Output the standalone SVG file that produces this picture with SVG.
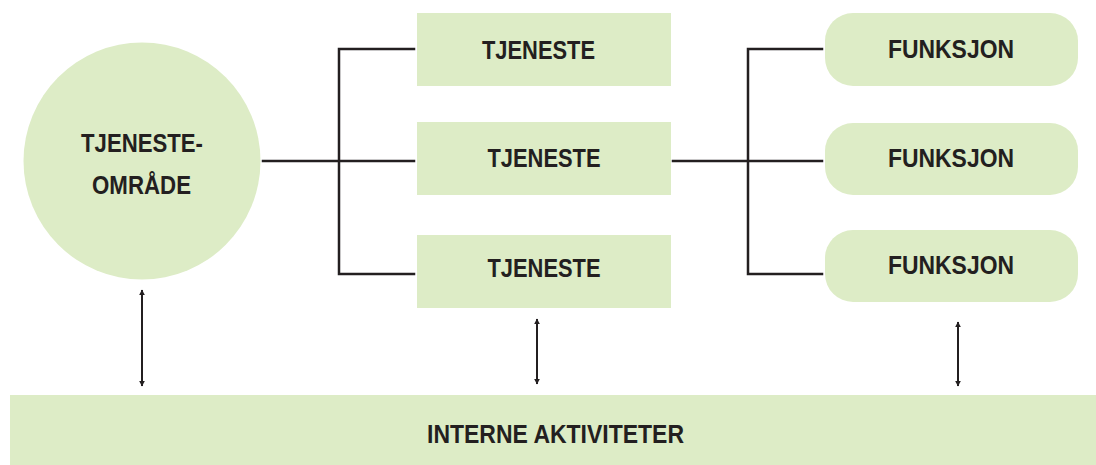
<svg xmlns="http://www.w3.org/2000/svg" width="1096" height="465" viewBox="0 0 1096 465">
<style>
.node{fill:#ddecc6;stroke:none}
.lbl{font-family:"Liberation Sans",Arial,sans-serif;font-weight:bold;font-size:25px;fill:#231f20;text-anchor:middle}
.con{fill:none;stroke:#231f20;stroke-width:2.5;stroke-linecap:square}
.arr{fill:none;stroke:#231f20;stroke-width:2;marker-start:url(#ah);marker-end:url(#ah)}
</style>
<defs>
<marker id="ah" viewBox="0 0 10 10" refX="9" refY="5" markerWidth="6" markerHeight="7" markerUnits="userSpaceOnUse" orient="auto-start-reverse">
<path d="M0,0 L10,5 L0,10 Z" fill="#231f20"/>
</marker>
</defs>
<g id="connectors">
<path class="con" d="M263,161 H339 M339,49 V274 M339,49 H414 M339,161 H414 M339,274 H414"/>
<path class="con" d="M673,161 H748 M748,49 V274 M748,49 H822 M748,161 H822 M748,274 H822"/>
<line class="arr" x1="142" y1="290" x2="142" y2="386"/>
<line class="arr" x1="537" y1="319" x2="537" y2="384"/>
<line class="arr" x1="958" y1="322" x2="958" y2="386"/>
</g>
<g id="tjenesteomrade">
<circle class="node" cx="142" cy="161" r="118.5"/>
<text class="lbl" x="142" y="152" textLength="122" lengthAdjust="spacingAndGlyphs">TJENESTE-</text>
<text class="lbl" x="141.5" y="194" textLength="99" lengthAdjust="spacingAndGlyphs">OMRÅDE</text>
</g>
<g id="tjeneste1">
<rect class="node" x="417" y="13" width="254" height="73"/>
<text class="lbl" x="538.5" y="59" textLength="113" lengthAdjust="spacingAndGlyphs">TJENESTE</text>
</g>
<g id="tjeneste2">
<rect class="node" x="417" y="122" width="254" height="73"/>
<text class="lbl" x="544" y="167" textLength="113" lengthAdjust="spacingAndGlyphs">TJENESTE</text>
</g>
<g id="tjeneste3">
<rect class="node" x="417" y="235" width="254" height="73"/>
<text class="lbl" x="544" y="277" textLength="113" lengthAdjust="spacingAndGlyphs">TJENESTE</text>
</g>
<g id="funksjon1">
<rect class="node" x="825" y="13" width="253" height="73" rx="28" ry="28"/>
<text class="lbl" x="951" y="58" textLength="126" lengthAdjust="spacingAndGlyphs">FUNKSJON</text>
</g>
<g id="funksjon2">
<rect class="node" x="825" y="123" width="253" height="72" rx="28" ry="28"/>
<text class="lbl" x="951" y="167" textLength="126" lengthAdjust="spacingAndGlyphs">FUNKSJON</text>
</g>
<g id="funksjon3">
<rect class="node" x="825" y="230" width="253" height="72" rx="28" ry="28"/>
<text class="lbl" x="951" y="274" textLength="126" lengthAdjust="spacingAndGlyphs">FUNKSJON</text>
</g>
<g id="interne">
<rect class="node" x="10" y="395" width="1086" height="70"/>
<text class="lbl" x="555.5" y="443" textLength="257" lengthAdjust="spacingAndGlyphs">INTERNE AKTIVITETER</text>
</g>
</svg>
